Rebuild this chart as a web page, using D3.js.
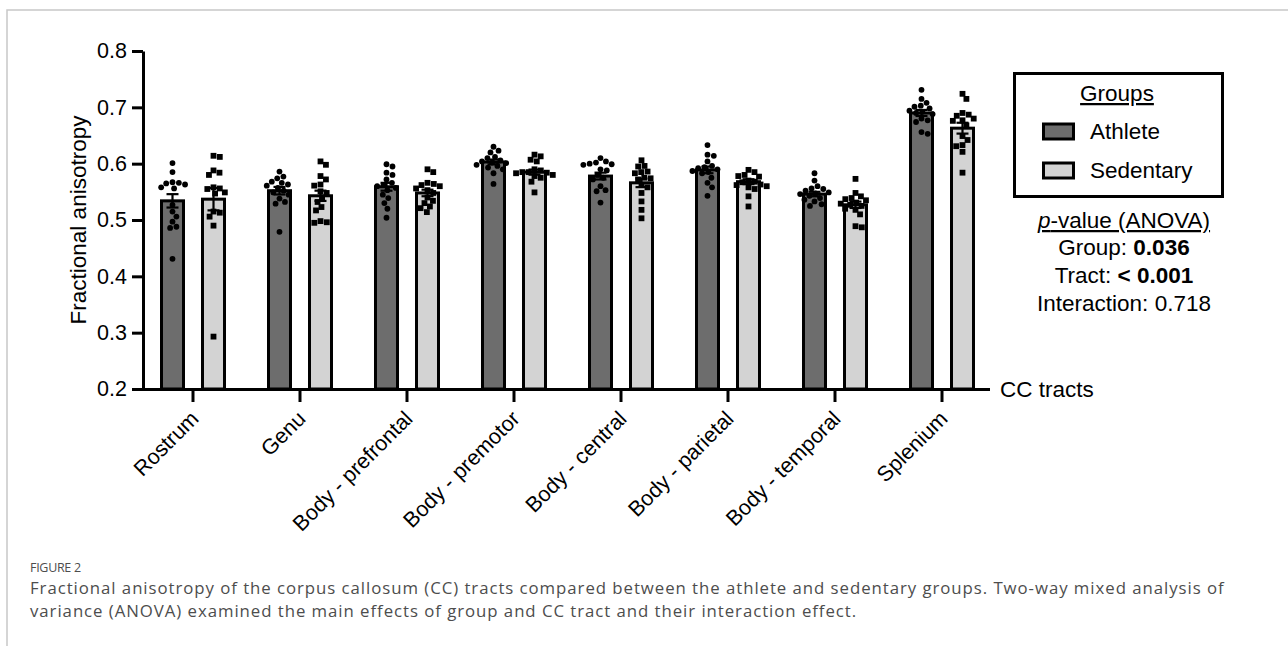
<!DOCTYPE html>
<html lang="en">
<head>
<meta charset="UTF-8">
<title>Fractional anisotropy of CC tracts</title>
<script src="https://d3js.org/d3.v7.min.js"></script>
<style>
    body { margin: 0; padding: 0; background: #fff; }
    svg { display: block; }
    .plot text { font-family: "Liberation Sans", Arial, sans-serif; fill: #000; }
    .caption { font-family: "Open Sans", sans-serif; fill: #4d4d4d; }
</style>
</head>
<body>
<script>
const tracts = ["Rostrum", "Genu", "Body - prefrontal", "Body - premotor",
                "Body - central", "Body - parietal", "Body - temporal", "Splenium"];
const groups = ["Athlete", "Sedentary"];
const groupColors = ["#6d6d6d", "#d3d3d3"];

// bar heights (group means)
const athleteMean   = [0.534, 0.552, 0.559, 0.603, 0.578, 0.589, 0.546, 0.690];
const sedentaryMean = [0.537, 0.543, 0.548, 0.585, 0.566, 0.568, 0.527, 0.663];

// individual subjects, one array per tract
const athleteFA = [
    [0.601, 0.585, 0.567, 0.566, 0.565, 0.563, 0.558, 0.556, 0.527, 0.515, 0.506, 0.497, 0.488, 0.486, 0.431],
    [0.586, 0.577, 0.574, 0.568, 0.566, 0.563, 0.561, 0.557, 0.552, 0.549, 0.545, 0.538, 0.532, 0.529, 0.479],
    [0.599, 0.595, 0.584, 0.580, 0.572, 0.566, 0.562, 0.560, 0.557, 0.553, 0.545, 0.539, 0.530, 0.520, 0.504],
    [0.630, 0.623, 0.620, 0.612, 0.610, 0.606, 0.604, 0.602, 0.601, 0.598, 0.596, 0.593, 0.590, 0.583, 0.564],
    [0.610, 0.604, 0.602, 0.600, 0.599, 0.598, 0.590, 0.588, 0.580, 0.575, 0.572, 0.560, 0.553, 0.551, 0.531],
    [0.633, 0.616, 0.614, 0.604, 0.596, 0.594, 0.592, 0.590, 0.587, 0.585, 0.583, 0.575, 0.566, 0.558, 0.543],
    [0.583, 0.570, 0.560, 0.556, 0.555, 0.552, 0.549, 0.547, 0.546, 0.543, 0.539, 0.536, 0.533, 0.528, 0.525],
    [0.731, 0.715, 0.708, 0.703, 0.701, 0.698, 0.694, 0.692, 0.690, 0.688, 0.680, 0.677, 0.674, 0.656, 0.653]
];
const sedentaryFA = [
    [0.614, 0.612, 0.588, 0.584, 0.580, 0.558, 0.556, 0.555, 0.549, 0.547, 0.515, 0.513, 0.506, 0.490, 0.293],
    [0.604, 0.598, 0.578, 0.572, 0.563, 0.561, 0.551, 0.548, 0.540, 0.532, 0.523, 0.517, 0.498, 0.496, 0.495],
    [0.590, 0.585, 0.566, 0.564, 0.562, 0.560, 0.556, 0.553, 0.548, 0.540, 0.534, 0.530, 0.524, 0.521, 0.514],
    [0.616, 0.613, 0.607, 0.604, 0.590, 0.588, 0.585, 0.585, 0.584, 0.583, 0.580, 0.578, 0.575, 0.568, 0.549],
    [0.606, 0.596, 0.595, 0.586, 0.585, 0.583, 0.575, 0.574, 0.572, 0.562, 0.558, 0.548, 0.533, 0.518, 0.503],
    [0.589, 0.585, 0.580, 0.578, 0.577, 0.570, 0.568, 0.567, 0.563, 0.562, 0.560, 0.558, 0.555, 0.542, 0.524],
    [0.573, 0.548, 0.542, 0.539, 0.537, 0.535, 0.531, 0.529, 0.527, 0.525, 0.520, 0.518, 0.510, 0.489, 0.487],
    [0.724, 0.715, 0.690, 0.687, 0.685, 0.680, 0.677, 0.676, 0.668, 0.649, 0.642, 0.633, 0.631, 0.621, 0.584]
];

const yTicks = [0.2, 0.3, 0.4, 0.5, 0.6, 0.7, 0.8];
const anovaLines = [
    { label: "Group: ", value: "0.036", bold: true },
    { label: "Tract: ", value: "< 0.001", bold: true },
    { label: "Interaction: ", value: "0.718", bold: false }
];
const captionTitle = "FIGURE 2";
const captionLines = [
    "Fractional anisotropy of the corpus callosum (CC) tracts compared between the athlete and sedentary groups. Two-way mixed analysis of",
    "variance (ANOVA) examined the main effects of group and CC tract and their interaction effect."
];

const W = 1288, H = 646;
const svg = d3.select("body").append("svg").attr("width", W).attr("height", H);

// page frame
svg.append("path")
    .attr("d", `M7,${H} V10 H${W}`)
    .attr("fill", "none")
    .attr("stroke", "#c8c8c8")
    .attr("stroke-width", 1.5);

const plot = svg.append("g").attr("class", "plot");

const axisX = 143, baseY = 389;
const y = d3.scaleLinear().domain([0.2, 0.8]).range([baseY, 51]);
const x = d3.scaleBand().domain(tracts).range([139.5, 995.5]);
const sub = d3.scaleOrdinal().domain(groups).range([-20.5, 20.5]);
const barW = 22;

const bars = tracts.flatMap((t, i) => [
    { tract: t, group: groups[0], mean: athleteMean[i], pts: athleteFA[i] },
    { tract: t, group: groups[1], mean: sedentaryMean[i], pts: sedentaryFA[i] }
]);
bars.forEach(b => {
    b.cx = x(b.tract) + x.bandwidth() / 2 + sub(b.group);
    b.sem = d3.deviation(b.pts) / Math.sqrt(b.pts.length);
});

// bars
plot.selectAll("rect.bar")
    .data(bars)
    .join("rect")
    .attr("class", "bar")
    .attr("x", d => d.cx - barW / 2)
    .attr("y", d => y(d.mean))
    .attr("width", barW)
    .attr("height", d => baseY - y(d.mean))
    .attr("fill", d => groupColors[groups.indexOf(d.group)])
    .attr("stroke", "#000")
    .attr("stroke-width", 3);

// error bars (SEM)
const eb = plot.selectAll("g.err").data(bars).join("g").attr("class", "err")
    .attr("stroke", "#000").attr("stroke-width", 2.2);
eb.append("line")
    .attr("x1", d => d.cx).attr("x2", d => d.cx)
    .attr("y1", d => y(d.mean - d.sem)).attr("y2", d => y(d.mean + d.sem));
eb.append("line")
    .attr("x1", d => d.cx - 6).attr("x2", d => d.cx + 6)
    .attr("y1", d => y(d.mean + d.sem)).attr("y2", d => y(d.mean + d.sem));
eb.append("line")
    .attr("x1", d => d.cx - 6).attr("x2", d => d.cx + 6)
    .attr("y1", d => y(d.mean - d.sem)).attr("y2", d => y(d.mean - d.sem));

// simple beeswarm so the subject points spread sideways like Prism does
function swarm(values, diam) {
    const placed = [];
    values.slice().sort((a, b) => b - a).forEach(v => {
        const py = y(v);
        const near = placed.filter(p => Math.abs(p.py - py) < diam);
        const cands = [0];
        near.forEach(p => {
            const w = Math.sqrt(diam * diam - (p.py - py) ** 2);
            cands.push(p.dx + w, p.dx - w);
        });
        cands.sort((a, b) => Math.abs(a) - Math.abs(b));
        const dx = cands.find(c => near.every(p =>
            (p.dx - c) ** 2 + (p.py - py) ** 2 >= diam * diam - 0.01));
        placed.push({ v, py, dx });
    });
    return placed;
}

const dotR = 2.9;
bars.forEach(b => {
    const pts = swarm(b.pts, 6.4);
    if (b.group === "Athlete") {
        plot.append("g").selectAll("circle")
            .data(pts).join("circle")
            .attr("cx", d => b.cx + d.dx)
            .attr("cy", d => d.py)
            .attr("r", dotR)
            .attr("fill", "#000");
    } else {
        plot.append("g").selectAll("rect")
            .data(pts).join("rect")
            .attr("x", d => b.cx + d.dx - dotR)
            .attr("y", d => d.py - dotR)
            .attr("width", dotR * 2)
            .attr("height", dotR * 2)
            .attr("fill", "#000");
    }
});

// y axis
const yAxis = plot.append("g")
    .attr("transform", `translate(${axisX},0)`)
    .call(d3.axisLeft(y).tickValues(yTicks).tickFormat(d3.format(".1f")).tickSize(11).tickSizeOuter(0));
yAxis.select(".domain").attr("stroke-width", 3);
yAxis.selectAll(".tick line").attr("stroke-width", 3);
yAxis.selectAll(".tick text")
    .attr("x", -16)
    .style("font-size", "21.5px")
    .style("font-family", "'Liberation Sans', Arial, sans-serif");

// x axis
const xAxis = plot.append("g")
    .attr("transform", `translate(0,${baseY})`)
    .call(d3.axisBottom(x).tickSize(13).tickSizeOuter(0).tickFormat(""));
xAxis.select(".domain").attr("d", `M${axisX - 11},0.5H990`).attr("stroke-width", 3);
xAxis.selectAll(".tick line").attr("stroke-width", 3);

plot.append("g").selectAll("text")
    .data(tracts)
    .join("text")
    .attr("transform", d => `translate(${x(d) + x.bandwidth() / 2 + 7},420) rotate(-45)`)
    .attr("text-anchor", "end")
    .style("font-size", "21.5px")
    .text(d => d);

plot.append("text")
    .attr("x", 1000).attr("y", 397)
    .style("font-size", "22.5px")
    .text("CC tracts");

plot.append("text")
    .attr("transform", `translate(86,${(y(0.2) + y(0.8)) / 2}) rotate(-90)`)
    .attr("text-anchor", "middle")
    .style("font-size", "22.5px")
    .text("Fractional anisotropy");

// legend
const lg = plot.append("g");
lg.append("rect")
    .attr("x", 1014.5).attr("y", 73.5).attr("width", 208).attr("height", 123)
    .attr("fill", "none").attr("stroke", "#000").attr("stroke-width", 3);
lg.append("text")
    .attr("x", 1117).attr("y", 101)
    .attr("text-anchor", "middle")
    .style("font-size", "22.5px")
    .style("text-decoration", "underline")
    .text("Groups");
groups.forEach((g, i) => {
    const ly = 124 + i * 39;
    lg.append("rect")
        .attr("x", 1043.5).attr("y", ly).attr("width", 30).attr("height", 15)
        .attr("fill", groupColors[i]).attr("stroke", "#000").attr("stroke-width", 3);
    lg.append("text")
        .attr("x", 1090).attr("y", ly + 15)
        .style("font-size", "22.5px")
        .text(g);
});

// ANOVA summary
const pv = plot.append("g").style("font-size", "22.5px");
const head = pv.append("text").attr("x", 1124).attr("y", 228).attr("text-anchor", "middle")
    .style("text-decoration", "underline");
head.append("tspan").style("font-style", "italic").text("p");
head.append("tspan").text("-value (ANOVA)");
anovaLines.forEach((l, i) => {
    const t = pv.append("text").attr("x", 1124).attr("y", 255 + i * 28).attr("text-anchor", "middle");
    t.append("tspan").text(l.label);
    t.append("tspan").style("font-weight", l.bold ? "bold" : "normal").text(l.value);
});

// caption
svg.append("text").attr("class", "caption")
    .attr("x", 30).attr("y", 572)
    .style("font-size", "12.5px")
    .style("letter-spacing", "-0.3px")
    .text(captionTitle);
svg.append("g").selectAll("text")
    .data(captionLines)
    .join("text")
    .attr("class", "caption")
    .attr("x", 30)
    .attr("y", (d, i) => 594 + i * 23)
    .style("font-size", "16.8px")
    .style("letter-spacing", "0.95px")
    .text(d => d);
</script>
</body>
</html>
